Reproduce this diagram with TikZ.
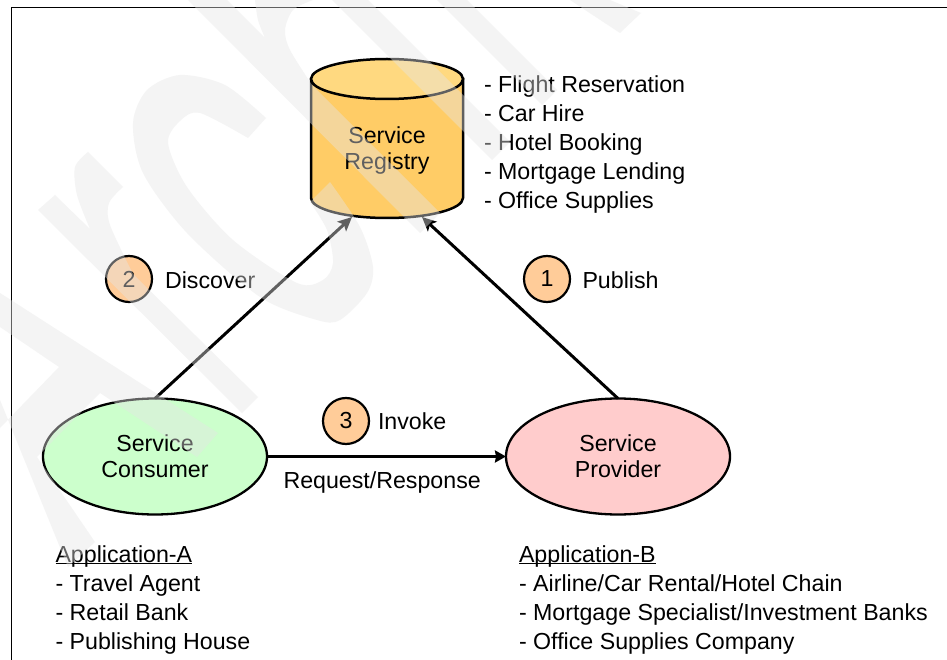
\documentclass[tikz,border=0pt]{standalone}
\usepackage{fontspec}
\setmainfont{Liberation Sans}
\usetikzlibrary{shapes.geometric,arrows.meta}
\newcommand\ulx[1]{\setbox0\hbox{#1}\rlap{\rule[-2.4pt]{\wd0}{1.4pt}}\box0}
\definecolor{regfill}{HTML}{FFCC66}
\definecolor{regtop}{HTML}{FFD980}
\definecolor{consfill}{HTML}{CCFFCC}
\definecolor{provfill}{HTML}{FFCCCC}
\definecolor{stepfill}{HTML}{FFCC99}
\tikzset{
  every node/.style={inner sep=0pt,outer sep=0pt,font=\fontsize{23.2pt}{26pt}\selectfont},
  party/.style={ellipse,draw=black,line width=2.3pt,minimum width=224pt,minimum height=116pt,align=center},
  stepnum/.style={circle,draw=black,line width=2.2pt,fill=stepfill,minimum size=46pt},
  lbl/.style={anchor=base west},
  wire/.style={draw=black,line width=3pt,-{Stealth[length=14pt,width=13pt,inset=3pt]}},
  hwire/.style={draw=black,line width=3.6pt,-{Stealth[length=11pt,width=12pt,inset=1pt]}},
  shell/.style={draw=black,line width=2.5pt},
  wm/.style={fill=black!10,fill opacity=.42,draw=none}
}
\begin{document}
\begin{tikzpicture}[x=1pt,y=-1pt]
\useasboundingbox (0,0) rectangle (947,660);
\fill[white] (0,0) rectangle (947,660);
% frame
\coordinate (f1) at (11.5,660);
\coordinate (f2) at (11.5,7.5);
\coordinate (f3) at (947,7.5);
\draw[line width=1.5pt,line join=miter] (f1) -- (f2) -- (f3);
% registry
\path[shell,fill=regfill] (311,79) -- (311,198) .. controls (311,209) and (345,218) .. (387,218) .. controls (429,218) and (463,209) .. (463,198) -- (463,79) -- cycle;
\path[shell,fill=regtop] (387,79) ellipse [x radius=76,y radius=20];
\node[align=center] (reg) at (387,151) {Service\\Registry};
\coordinate (regL) at (352,217);
\coordinate (regR) at (422,217);
% parties
\node[party,fill=consfill] (cons) at (155,456.5) {Service\\Consumer};
\node[party,fill=provfill] (prov) at (618,456.5) {Service\\Provider};
% connectors
\draw[wire] (cons.north) -- (regL);
\draw[wire] (prov.north) -- (regR);
\draw[hwire] (cons.east) -- (prov.west);
% steps
\node[stepnum] (s2) at (129,279) {\raisebox{-1pt}{2}};
\node[stepnum] (s1) at (547,279) {\raisebox{-1pt}{1}};
\node[stepnum] (s3) at (346,421) {\raisebox{-1pt}{3}};
\node[lbl] (ld) at (165,288) {Discover};
\node[lbl] (lp) at (582.5,288) {Publish};
\node[lbl] (li) at (378,429) {Invoke};
\node[lbl] (lr) at (283.5,488) {Request/Response};
% service list
\node[lbl] (t1) at (484,93) {- Flight Reservation};
\node[lbl] (t2) at (484,122) {- Car Hire};
\node[lbl] (t3) at (484,151) {- Hotel Booking};
\node[lbl] (t4) at (484,180) {- Mortgage Lending};
\node[lbl] (t5) at (484,209) {- Office Supplies};
% applications
\node[lbl] (a0) at (55.5,562) {\ulx{Application-A}};
\node[lbl] (a1) at (55.5,591) {- Travel Agent};
\node[lbl] (a2) at (55.5,620) {- Retail Bank};
\node[lbl] (a3) at (55.5,649) {- Publishing House};
\node[lbl] (b0) at (519,562) {\ulx{Application-B}};
\node[lbl] (b1) at (519,591) {- Airline/Car Rental/Hotel Chain};
\node[lbl] (b2) at (519,620) {- Mortgage Specialist/Investment Banks};
\node[lbl] (b3) at (519,649) {- Office Supplies Company};
% watermark
\fill[wm] (0,293) -- (218,433) -- (197,457) -- (100,393) -- (37,457) -- (95,542) -- (68,567) -- (0,400) -- (0,428) -- (59,367) -- (0,327) -- cycle;
\fill[wm] (38,210) -- (55,195) -- (90,229)
  -- plot[smooth] coordinates {(90,229) (77,195) (75,167) (88,152)}
  -- (123,187)
  -- plot[smooth] coordinates {(123,187) (109,203) (110,225) (133,274)}
  -- (258,397) -- (242,413) -- cycle;
\fill[wm] plot[smooth] coordinates {(266,118) (225,85) (180,75) (147,90) (133,123) (143,173) (187,233) (260,297) (317,320) (340,320) (367,293) (373,267) (360,227) (330,182)}
  -- (310,202)
  -- plot[smooth] coordinates {(310,202) (327,230) (333,263) (323,280) (297,283) (233,240) (187,187) (168,143) (180,121) (200,113) (248,138)}
  -- cycle;
\fill[wm] (188,0) -- (420,233) -- (440,213) -- (312,85)
  -- plot[smooth] coordinates {(312,85) (290,50) (285,30) (293,10) (313,0)}
  -- (255,0)
  -- plot[smooth] coordinates {(255,0) (258,20) (265,38)}
  -- (227,0) -- cycle;
\fill[wm] (332,0) -- (368,0) -- (510,142) -- (492,160) -- cycle;
\fill[wm] (437,0) -- (467,0) -- (557,90) -- (542,105) -- cycle;
\fill[wm] (570,0) -- (620,33) -- (641,13) -- (610,0) -- cycle;
\end{tikzpicture}
\end{document}
